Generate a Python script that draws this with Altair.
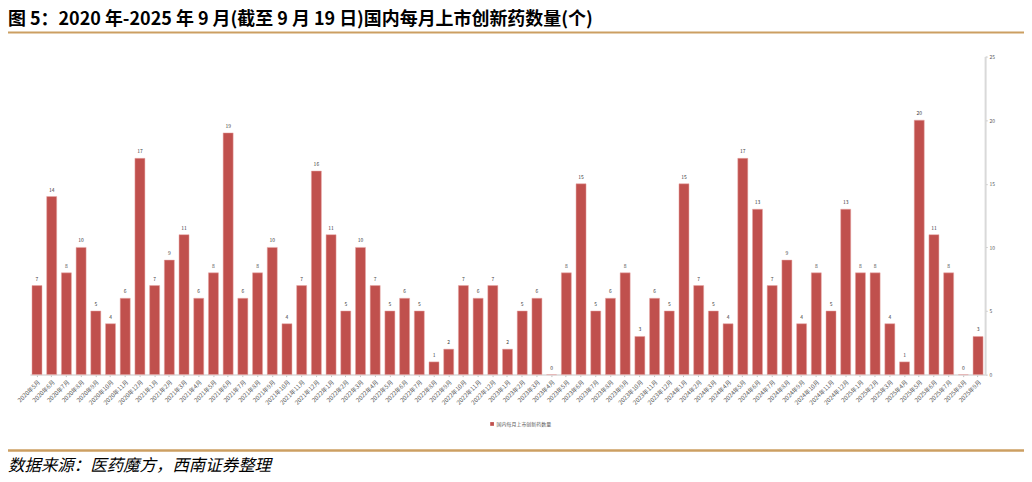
import altair as alt
import pandas as pd

months = []
for y in range(2020, 2026):
    for m in range(1, 13):
        if (y == 2020 and m < 5) or (y == 2025 and m > 9):
            continue
        months.append(f"{y}年{m}月")

values = [7, 14, 8, 10, 5, 4, 6, 17, 7, 9, 11, 6, 8, 19, 6, 8, 10, 4, 7, 16,
          11, 5, 10, 7, 5, 6, 5, 1, 2, 7, 6, 7, 2, 5, 6, 0, 8, 15, 5, 6,
          8, 3, 6, 5, 15, 7, 5, 4, 17, 13, 7, 9, 4, 8, 5, 13, 8, 8, 4, 1,
          20, 11, 8, 0, 3]

series_name = "国内每月上市创新药数量"
title_text = "图 5：2020 年-2025 年 9 月(截至 9 月 19 日)国内每月上市创新药数量(个)"
source_text = "数据来源：医药魔方，西南证券整理"
y_ticks = [0, 5, 10, 15, 20, 25]

df = pd.DataFrame({"month": months, "value": values, "series": [series_name] * len(months)})

FONT = "Noto Sans CJK SC"
BAR = "#C0504D"
GOLD = "#CC9F62"

xenc = alt.X("month:N", sort=months,
             scale=alt.Scale(paddingInner=0.32, paddingOuter=0.14),
             axis=alt.Axis(title=None, labelAngle=-45, labelFontSize=6, labelColor="#595959",
                           labelFont=FONT, labelAlign="right", labelBaseline="top",
                           labelPadding=2, domainColor="#D9D9D9", domainWidth=1.5,
                           tickColor="#BFBFBF", tickSize=2, labelOverlap=False))
yenc = alt.Y("value:Q", scale=alt.Scale(domain=[0, 25], nice=False),
             axis=alt.Axis(title=None, orient="right", values=y_ticks, labelFontSize=5,
                           labelColor="#595959", labelFont=FONT, domainColor="#D9D9D9",
                           domainWidth=2, tickColor="#BFBFBF", tickSize=2, grid=False,
                           labelPadding=2))

bars = alt.Chart(df).mark_bar(stroke="#E8A8A6", strokeWidth=0.5).encode(
    x=xenc, y=yenc,
    color=alt.Color("series:N", scale=alt.Scale(range=[BAR]),
                    legend=alt.Legend(title=None, orient="none", legendX=461, legendY=366,
                                      symbolType="square", symbolSize=14, labelFontSize=5,
                                      labelFont=FONT, labelColor="#595959", padding=0,
                                      symbolStrokeWidth=0, labelOffset=2))
)
labels = alt.Chart(df).mark_text(fontSize=5, font=FONT, color="#404040", dy=-4,
                                 baseline="bottom").encode(
    x=alt.X("month:N", sort=months), y="value:Q", text="value:Q")

deco_title = alt.Chart(pd.DataFrame({"t": [title_text]})).mark_text(
    font=FONT, fontSize=18, fontWeight="bold", align="left", baseline="middle", color="#000000"
).encode(x=alt.value(-22), y=alt.value(-37), text="t:N")

deco_source = alt.Chart(pd.DataFrame({"t": [source_text]})).mark_text(
    font=FONT, fontSize=16.5, fontStyle="italic", align="left", baseline="middle", color="#000000"
).encode(x=alt.value(-22), y=alt.value(411), text="t:N")

line_top = alt.Chart(pd.DataFrame({"a": [0]})).mark_rule(color=GOLD, strokeWidth=2).encode(
    x=alt.value(-25), x2=alt.value(997), y=alt.value(-24))
line_bot = alt.Chart(pd.DataFrame({"a": [0]})).mark_rule(color=GOLD, strokeWidth=2.5).encode(
    x=alt.value(-25), x2=alt.value(997), y=alt.value(395))

chart = alt.layer(bars, labels, deco_title, deco_source, line_top, line_bot).properties(
    width=958, height=319,
    autosize=alt.AutoSizeParams(type="none"),
    padding={"left": 22, "top": 48, "right": 39, "bottom": 103},
).configure(background="white").configure_view(stroke=None)

chart.save("out.html", embed_options={"renderer": "svg", "actions": False})
